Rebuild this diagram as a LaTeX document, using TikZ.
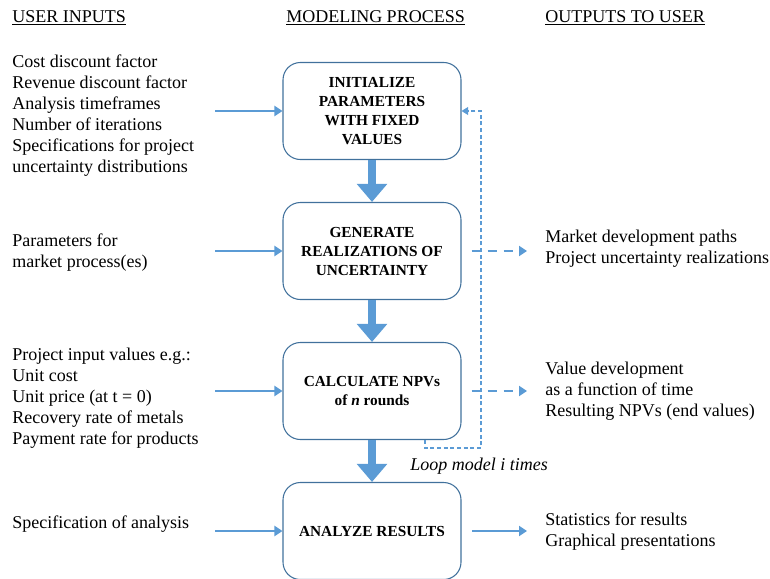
\documentclass[tikz,border=0pt]{standalone}
\usepackage{fontspec}
\setmainfont{Liberation Serif}
\usetikzlibrary{arrows.meta}
\definecolor{flowblue}{RGB}{91,155,213}
\definecolor{boxblue}{RGB}{65,113,156}
\tikzset{
  procbox/.style={draw=boxblue,line width=0.8pt,rounded corners=13pt,minimum width=133.5pt,minimum height=72.75pt,align=center,font=\fontsize{11.5}{14.25}\selectfont\bfseries},
  usertext/.style={anchor=west,align=left,inner sep=0pt,font=\fontsize{13.5}{15.75}\selectfont},
  heading/.style={anchor=west,inner sep=0pt,font=\fontsize{13.5}{15.75}\selectfont},
  inarrow/.style={flowblue,line width=2.2pt,-{Triangle[width=7.5pt,length=6pt]}},
  outarrow/.style={inarrow,dash pattern=on 7pt off 5pt},
  downarrow/.style={flowblue,line width=6.5pt,-{Triangle[width=22pt,length=13.5pt]}},
  looparrow/.style={flowblue,line width=0.8pt,dash pattern=on 3pt off 2pt,-{Triangle[width=6pt,length=5pt]}}
}
\begin{document}
\begin{tikzpicture}[x=0.75pt,y=-0.75pt]
\clip (0,0) rectangle (770,578);
\node[heading] (hin) at (12,18) {\underline{USER INPUTS}};
\node[heading] (hmod) at (286,18) {\underline{MODELING PROCESS}};
\node[heading] (hout) at (545,18) {\underline{OUTPUTS TO USER}};

\node[procbox] (init) at (372,111) {INITIALIZE\\PARAMETERS\\WITH FIXED\\VALUES};
\node[procbox] (gen) at (372,251) {GENERATE\\REALIZATIONS OF\\UNCERTAINTY};
\node[procbox] (calc) at (372,391) {CALCULATE NPVs\\of \textit{n} rounds};
\node[procbox] (anal) at (372,531) {ANALYZE RESULTS};

\node[usertext] (in1) at (12,116) {Cost discount factor\\Revenue discount factor\\Analysis timeframes\\Number of iterations\\Specifications for project\\uncertainty distributions};
\node[usertext] (in2) at (12,252.5) {Parameters for\\market process(es)};
\node[usertext] (in3) at (12,398.5) {Project input values e.g.:\\Unit cost\\Unit price (at t = 0)\\Recovery rate of metals\\Payment rate for products};
\node[usertext] (in4) at (12,524) {Specification of analysis};

\node[usertext] (out2) at (545,249) {Market development paths\\Project uncertainty realizations};
\node[usertext] (out3) at (545,391) {Value development\\as a function of time\\Resulting NPVs (end values)};
\node[usertext] (out4) at (545,531.5) {Statistics for results\\Graphical presentations};

\coordinate (a1) at (215,111);
\coordinate (a2) at (215,251);
\coordinate (a3) at (215,391);
\coordinate (a4) at (215,531);
\draw[inarrow] (a1) -- (init.west);
\draw[inarrow] (a2) -- (gen.west);
\draw[inarrow] (a3) -- (calc.west);
\draw[inarrow] (a4) -- (anal.west);

\draw[downarrow] (init) -- (gen);
\draw[downarrow] (gen) -- (calc);
\draw[downarrow] (calc) -- (anal);

\coordinate (o2) at (527,251);
\coordinate (o3) at (527,391);
\coordinate (o4) at (527,531);
\draw[outarrow,shorten <=7.5pt] (gen.east) -- (o2);
\draw[outarrow,shorten <=7.5pt] (calc.east) -- (o3);
\draw[inarrow,shorten <=8pt] (anal.east) -- (o4);

\coordinate (ls) at (425,440);
\coordinate (lp) at (481,448);
\draw[looparrow] (ls) |- (lp) |- (init.east);
\node[usertext,font=\fontsize{13.5}{15.75}\selectfont\itshape] (loop) at (410,466) {Loop model i times};
\end{tikzpicture}
\end{document}
